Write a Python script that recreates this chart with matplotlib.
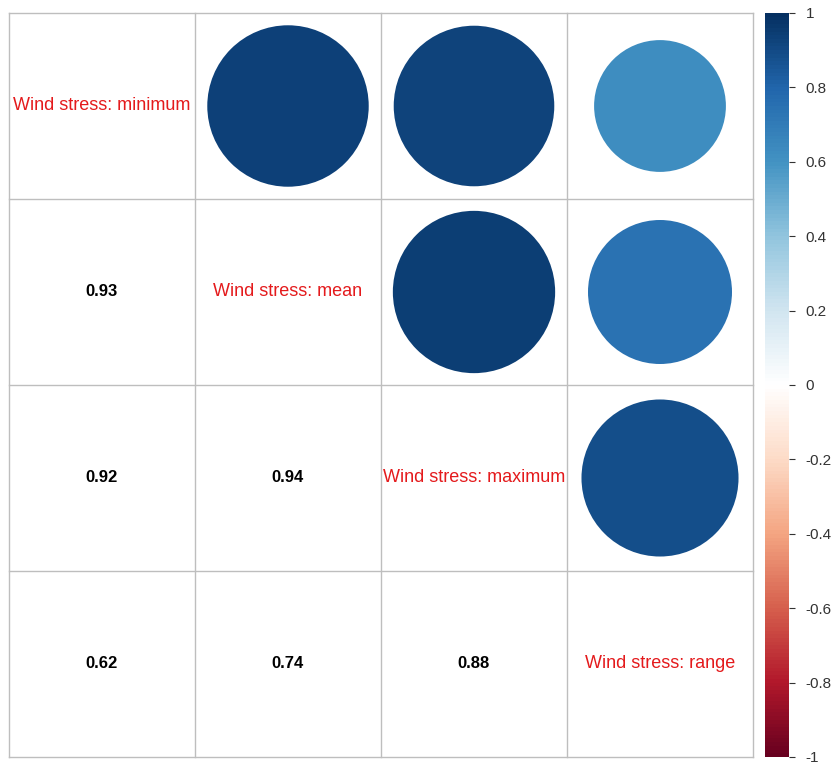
import matplotlib.pyplot as plt
import numpy as np
from matplotlib.colors import LinearSegmentedColormap, Normalize
from matplotlib.patches import Circle
from matplotlib.colorbar import ColorbarBase

plt.rcParams['font.family'] = ['Liberation Sans', 'DejaVu Sans']

# Variable names and pairwise correlations
labels = ['Wind stress: minimum', 'Wind stress: mean',
          'Wind stress: maximum', 'Wind stress: range']
corr = np.array([
    [1.00, 0.93, 0.92, 0.62],
    [0.93, 1.00, 0.94, 0.74],
    [0.92, 0.94, 1.00, 0.88],
    [0.62, 0.74, 0.88, 1.00],
])
cbar_ticks = [-1, -0.8, -0.6, -0.4, -0.2, 0, 0.2, 0.4, 0.6, 0.8, 1]

# RdBu palette as used by corrplot
cmap = LinearSegmentedColormap.from_list('rdbu', [
    '#67001F', '#B2182B', '#D6604D', '#F4A582', '#FDDBC7', '#FFFFFF',
    '#D1E5F0', '#92C5DE', '#4393C3', '#2166AC', '#053061'], N=200)
norm = Normalize(-1, 1)

W, H = 832, 767
fig = plt.figure(figsize=(W / 100, H / 100), dpi=100)
ax = fig.add_axes([9 / W, 10 / H, 744 / W, 744 / H])
n = len(labels)
ax.set_xlim(0, n)
ax.set_ylim(n, 0)
ax.axis('off')

grid_col = '#BEBEBE'
for k in range(n + 1):
    ax.plot([k, k], [0, n], color=grid_col, lw=1, zorder=1, clip_on=False)
    ax.plot([0, n], [k, k], color=grid_col, lw=1, zorder=1, clip_on=False)

for i in range(n):
    for j in range(n):
        cx, cy = j + 0.5, i + 0.5
        r = corr[i, j]
        if i == j:
            ax.text(cx, cy, labels[i], color='#E41A1C', ha='center',
                    va='center', fontsize=13)
        elif j > i:
            rad = np.sqrt(abs(r)) * 0.45
            ax.add_patch(Circle((cx, cy), rad, facecolor=cmap(norm(r)),
                                edgecolor='none', zorder=2))
        else:
            ax.text(cx, cy, f'{r:.2f}', color='black', ha='center',
                    va='center', fontsize=12, fontweight='bold')

# Colour legend
cax = fig.add_axes([765 / W, 10 / H, 24 / W, 744 / H])
cb = ColorbarBase(cax, cmap=cmap, norm=norm, ticks=cbar_ticks)
cb.outline.set_visible(False)
cb.ax.set_yticklabels([f'{t:g}' for t in cbar_ticks])
cb.ax.tick_params(labelsize=11, length=4, width=0.8, color='#333333',
                  labelcolor='#333333', pad=8)

fig.savefig('out.png', dpi=100)
